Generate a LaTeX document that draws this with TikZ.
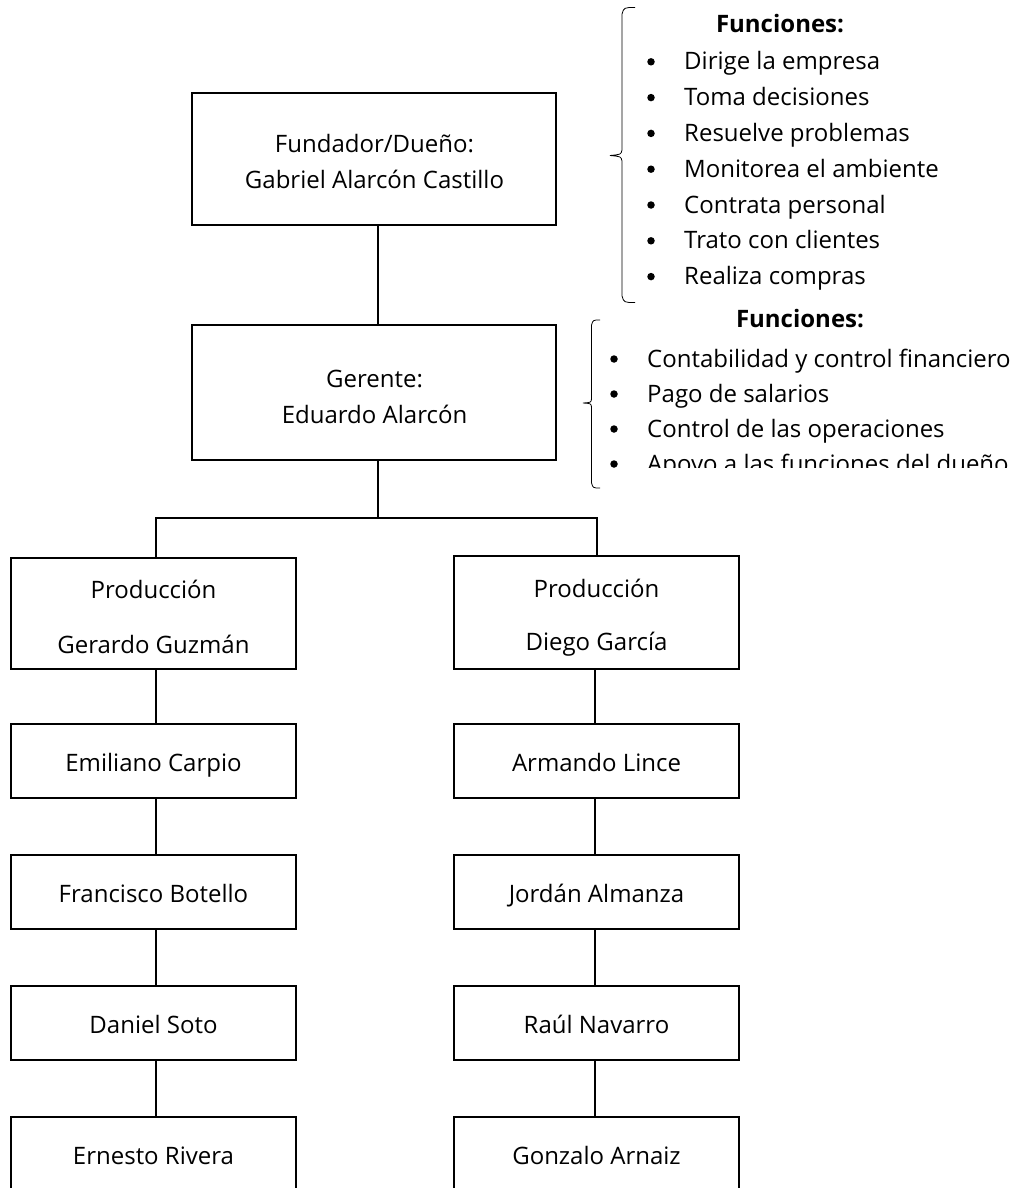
\documentclass[tikz,border=0pt]{standalone}
\usepackage{fontspec}
\setmainfont{Open Sans}
\begin{document}
\begin{tikzpicture}[x=1pt,y=-1pt,
  box/.style={draw, line width=1.2pt, inner sep=0pt, align=center,
    font=\fontsize{24}{36}\selectfont},
  onebox/.style={box, text height=21pt, text depth=0pt},
  bigbox/.style={box, minimum width=364pt},
  colbox/.style={onebox, minimum width=285pt},
  prodbox/.style={box, minimum width=285pt},
  boxtxt/.style={inner sep=0pt, anchor=base, font=\fontsize{24}{30}\selectfont},
  conn/.style={line width=1.2pt},
  brace/.style={line width=0.8pt},
  itemtxt/.style={inner sep=0pt, anchor=base west, font=\fontsize{24}{30}\selectfont},
  bul/.style={circle, fill, inner sep=0pt, minimum size=7.5pt},
  head/.style={inner sep=0pt, anchor=base, font=\fontsize{24}{30}\selectfont\bfseries}]
\useasboundingbox (0,0) rectangle (1028,1188);
\clip (0,0) rectangle (1028,1188);

% top boxes
\node[bigbox, minimum height=132pt] (own) at (374,159) {};
\node[boxtxt] (own-a) at (374.5,153) {Fundador/Dueño:};
\node[boxtxt] (own-b) at (374.5,188) {Gabriel Alarcón Castillo};
\node[bigbox, minimum height=135pt] (ger) at (374,392.5) {};
\node[boxtxt] (ger-a) at (374.5,387) {Gerente:};
\node[boxtxt] (ger-b) at (374.5,423) {Eduardo Alarcón};

% production boxes
\node[prodbox, minimum height=111pt] (pl) at (153.5,613.5) {};
\node[boxtxt] (pl-a) at (153.5,598) {Producción};
\node[boxtxt] (pl-b) at (153.5,653) {Gerardo Guzmán};
\node[prodbox, minimum height=113pt] (pr) at (596.5,612.5) {};
\node[boxtxt] (pr-a) at (596.5,597) {Producción};
\node[boxtxt] (pr-b) at (596.5,650) {Diego García};

% column boxes
\node[colbox, minimum height=74pt] (l1) at (153.5,761) {Emiliano Carpio};
\node[colbox, minimum height=74pt] (l2) at (153.5,892) {Francisco Botello};
\node[colbox, minimum height=74pt] (l3) at (153.5,1023) {Daniel Soto};
\node[colbox, minimum height=74pt] (l4) at (153.5,1154) {Ernesto Rivera};

\node[colbox, minimum height=74pt] (r1) at (596.5,761) {Armando Lince};
\node[colbox, minimum height=74pt] (r2) at (596.5,892) {Jordán Almanza};
\node[colbox, minimum height=74pt] (r3) at (596.5,1023) {Raúl Navarro};
\node[colbox, minimum height=74pt] (r4) at (596.5,1154) {Gonzalo Arnaiz};

% connectors
\coordinate (split) at (378,518);
\draw[conn] ([xshift=4pt]own.south) -- ([xshift=4pt]ger.north);
\draw[conn] ([xshift=4pt]ger.south) -- (split);
\draw[conn] ([xshift=2.5pt]pl.north) |- (split) -| ([xshift=0.5pt]pr.north);
\draw[conn] ([xshift=2.5pt]pl.south) -- ([xshift=2.5pt]l1.north);
\draw[conn] ([xshift=2.5pt]l1.south) -- ([xshift=2.5pt]l2.north);
\draw[conn] ([xshift=2.5pt]l2.south) -- ([xshift=2.5pt]l3.north);
\draw[conn] ([xshift=2.5pt]l3.south) -- ([xshift=2.5pt]l4.north);
\draw[conn] ([xshift=-1.5pt]pr.south) -- ([xshift=-1.5pt]r1.north);
\draw[conn] ([xshift=-1.5pt]r1.south) -- ([xshift=-1.5pt]r2.north);
\draw[conn] ([xshift=-1.5pt]r2.south) -- ([xshift=-1.5pt]r3.north);
\draw[conn] ([xshift=-1.5pt]r3.south) -- ([xshift=-1.5pt]r4.north);

% brace 1
\draw[brace] (635,7.5) .. controls (624,7.5) .. (622,14) -- (622,150)
  .. controls (621,154.5) .. (610,155.5) .. controls (621,156.5) .. (622,161)
  -- (622,296) .. controls (624,302.5) .. (635,302.5);
% brace 2
\draw[brace] (600,320) .. controls (593,320) .. (591.5,325) -- (591.5,399)
  .. controls (591,402.5) .. (583,403) .. controls (591,403.5) .. (591.5,407)
  -- (591.5,483) .. controls (593,488) .. (600,488);

% functions 1
\node[head] (h1) at (780,33) {Funciones:};
\foreach \t [count=\i] in {Dirige la empresa, Toma decisiones, Resuelve problemas,
   Monitorea el ambiente, Contrata personal, Trato con clientes, Realiza compras} {
  \node[bul] (b1-\i) at (651,26+35.8*\i) {};
  \node[itemtxt] (t1-\i) at (684,34+35.8*\i) {\t};
}

% functions 2 (clipped text box)
\begin{scope}
\clip (600,300) rectangle (1028,467);
\node[head] (h2) at (800,327) {Funciones:};
\foreach \t [count=\i] in {Contabilidad y control financiero, Pago de salarios,
   Control de las operaciones, Apoyo a las funciones del dueño} {
  \node[bul] (b2-\i) at (614,324+35*\i) {};
  \node[itemtxt] (t2-\i) at (647,332+35*\i) {\t};
}
\end{scope}
\end{tikzpicture}
\end{document}
